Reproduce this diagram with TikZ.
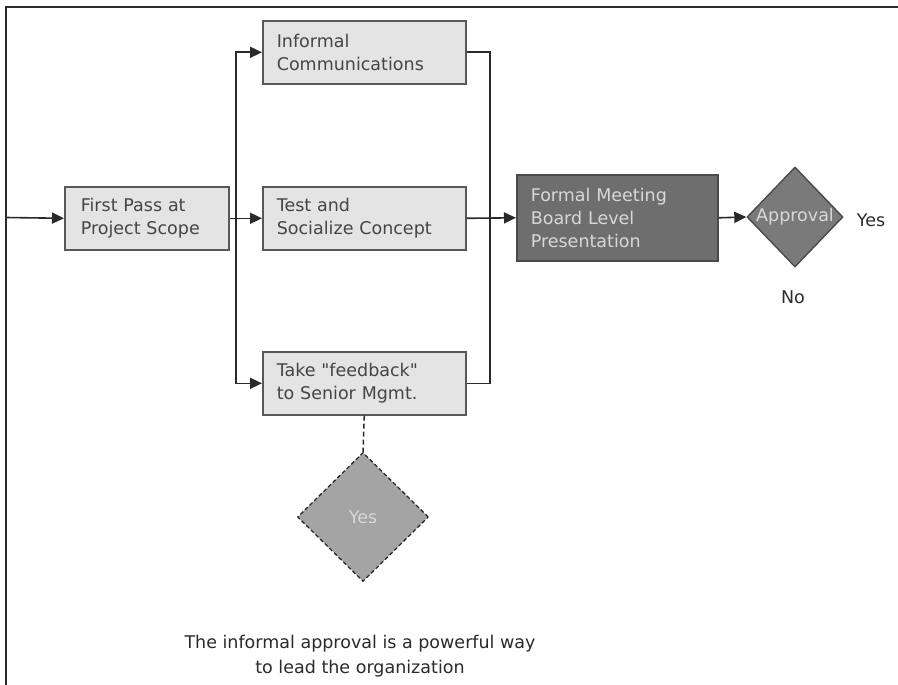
\documentclass[tikz,border=0pt]{standalone}
\usepackage{fontspec}
\setmainfont{DejaVu Sans}[Ligatures=TeXOff]
\usetikzlibrary{arrows.meta,shapes.geometric}

\definecolor{boxfill}{HTML}{E4E4E4}
\definecolor{boxline}{HTML}{585858}
\definecolor{boxtext}{HTML}{454545}
\definecolor{darkfill}{HTML}{6E6E6E}
\definecolor{darkline}{HTML}{4A4A4A}
\definecolor{lighttext}{HTML}{D8D8D8}
\definecolor{diafill}{HTML}{7A7A7A}
\definecolor{softfill}{HTML}{A4A4A4}
\definecolor{ink}{HTML}{2A2A2A}

\begin{document}
\begin{tikzpicture}[x=1pt,y=-1pt,
  txt/.style={font=\fontsize{17.5}{23}\selectfont},
  stepbox/.style={draw=boxline, line width=1.6pt, fill=boxfill, text=boxtext, txt,
    align=left, text width=174pt, inner xsep=14pt, inner ysep=0pt,
    minimum height=63pt, anchor=north west},
  darkbox/.style={stepbox, draw=darkline, fill=darkfill, text=lighttext, minimum height=86pt},
  decision/.style={diamond, draw=darkline, line width=1.4pt, fill=diafill, text=lighttext,
    txt, inner sep=0pt, minimum width=96pt, minimum height=100pt},
  softdecision/.style={diamond, draw=ink, line width=1.3pt, dash pattern=on 4pt off 2.5pt,
    fill=softfill, text=lighttext, txt, inner sep=0pt, minimum width=131pt, minimum height=129pt},
  flow/.style={draw=ink, line width=1.6pt, -{Triangle[length=12pt,width=11pt]}},
  link/.style={draw=ink, line width=1.6pt},
  plain/.style={text=ink, txt},
]
\useasboundingbox (0,0) rectangle (898,685);

% frame
\draw[ink, line width=2.4pt] (6,685) -- (6,7) -- (898,7);

% process boxes
\node[stepbox, text width=132pt, inner xsep=16pt] (first) at (64,186) {First Pass at\\Project Scope};
\node[stepbox, text width=175pt] (info) at (262,20) {Informal\\Communications};
\node[stepbox, text width=175pt] (test) at (262,186) {Test and\\Socialize Concept};
\node[stepbox, text width=175pt] (feed) at (262,351) {Take "feedback"\\to Senior Mgmt.};
\node[darkbox, text width=173pt] (formal) at (516,174) {Formal Meeting\\Board Level\\Presentation};

% decisions
\node[decision] (appr) at (795,217) {Approval};
\node[softdecision] (yesd) at (363,517) {Yes};

% outcome labels
\node[plain] (yes) at (871,220) {Yes};
\node[plain] (no) at (793,297) {No};

% bus coordinates
\coordinate (entry) at (6,217.5);
\coordinate (split) at (236,0);
\coordinate (merge) at (490,0);

% connectors
\draw[flow] (entry) -- (first.west);
\draw[flow] (first.east) -- (test.west);
\draw[flow] (split |- test.west) |- (info.west);
\draw[flow] (split |- test.west) |- (feed.west);
\draw[link] (info.east) -| (merge |- test.east);
\draw[link] (feed.east) -| (merge |- test.east);
\draw[flow] (test.east) -- (formal.west);
\draw[flow] (formal.east) -- (appr.west);
\draw[ink, line width=1.5pt, dash pattern=on 5pt off 3pt] (feed.south) -- (yesd.north);

% caption
\node[plain, align=center, font=\fontsize{17.5}{25}\selectfont] (note) at (360,656)
  {The informal approval is a powerful way\\to lead the organization};
\end{tikzpicture}
\end{document}
